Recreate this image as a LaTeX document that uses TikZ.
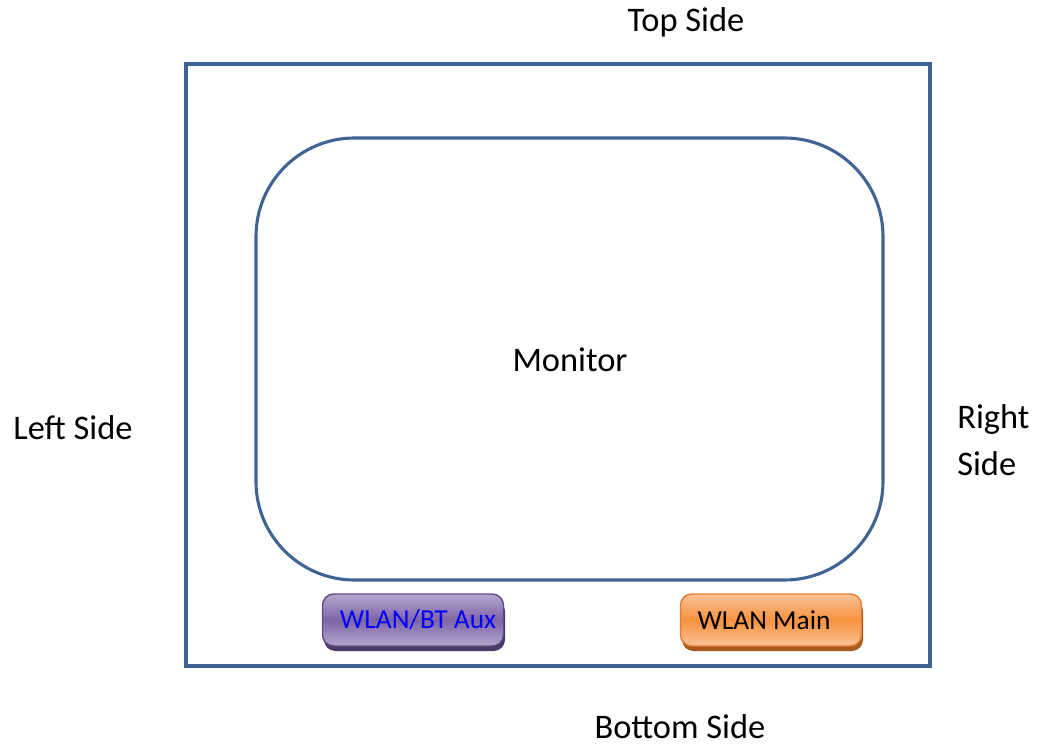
\documentclass[tikz,border=0pt]{standalone}
\usepackage{fontspec}
\setmainfont{Carlito}
\usepackage{tikz}
\usetikzlibrary{calc}

\definecolor{frameblue}{HTML}{3F6392}
\definecolor{auxmid}{HTML}{7E64A6}
\definecolor{auxlight}{HTML}{B4A6CF}
\definecolor{auxedge}{HTML}{5E4C80}
\definecolor{auxshadow}{HTML}{4A3A66}
\definecolor{mainmid}{HTML}{F7923F}
\definecolor{mainlight}{HTML}{FAC198}
\definecolor{mainedge}{HTML}{E07C30}
\definecolor{mainshadow}{HTML}{A85A1E}

\begin{document}
\begin{tikzpicture}[x=0.025cm,y=-0.025cm]
\tikzstyle{side} = [font=\fontsize{24.5}{29}\selectfont, inner sep=0pt]
\tikzstyle{antenna} = [draw, rounded corners=8, line width=1pt, minimum width=181*0.025cm, minimum height=52*0.025cm, inner xsep=0pt, font=\fontsize{19.5}{23}\selectfont]
\useasboundingbox (0,0) rectangle (1038,747);
% housing and screen
\draw[frameblue, line width=2.2pt] (186,64) rectangle (930,666);
\draw[frameblue, line width=2.2pt, rounded corners=70] (256,138) rectangle (883,580);
\node[side] (monitor) at (570,360) {Monitor};
% sides
\node[side] (top) at (686,22) {Top Side};
\node[side] (left) at (73,428) {Left Side};
\node[side, align=left, anchor=west] (right) at (957,440) {Right\\[4pt]Side};
\node[side] (bottom) at (680,727) {Bottom Side};
% antennas
\fill[auxshadow, rounded corners=8] (324,600) rectangle (505,651);
\node[antenna, draw=auxedge, top color=auxlight, bottom color=auxlight, middle color=auxmid, text=blue] (aux) at (413,620) {\hspace*{0.25cm}WLAN/BT Aux};
\fill[mainshadow, rounded corners=8] (682,600) rectangle (863,651);
\node[antenna, draw=mainedge, top color=mainlight, bottom color=mainlight, middle color=mainmid] (main) at (771,620) {WLAN Main\hspace*{0.35cm}};
\end{tikzpicture}
\end{document}
